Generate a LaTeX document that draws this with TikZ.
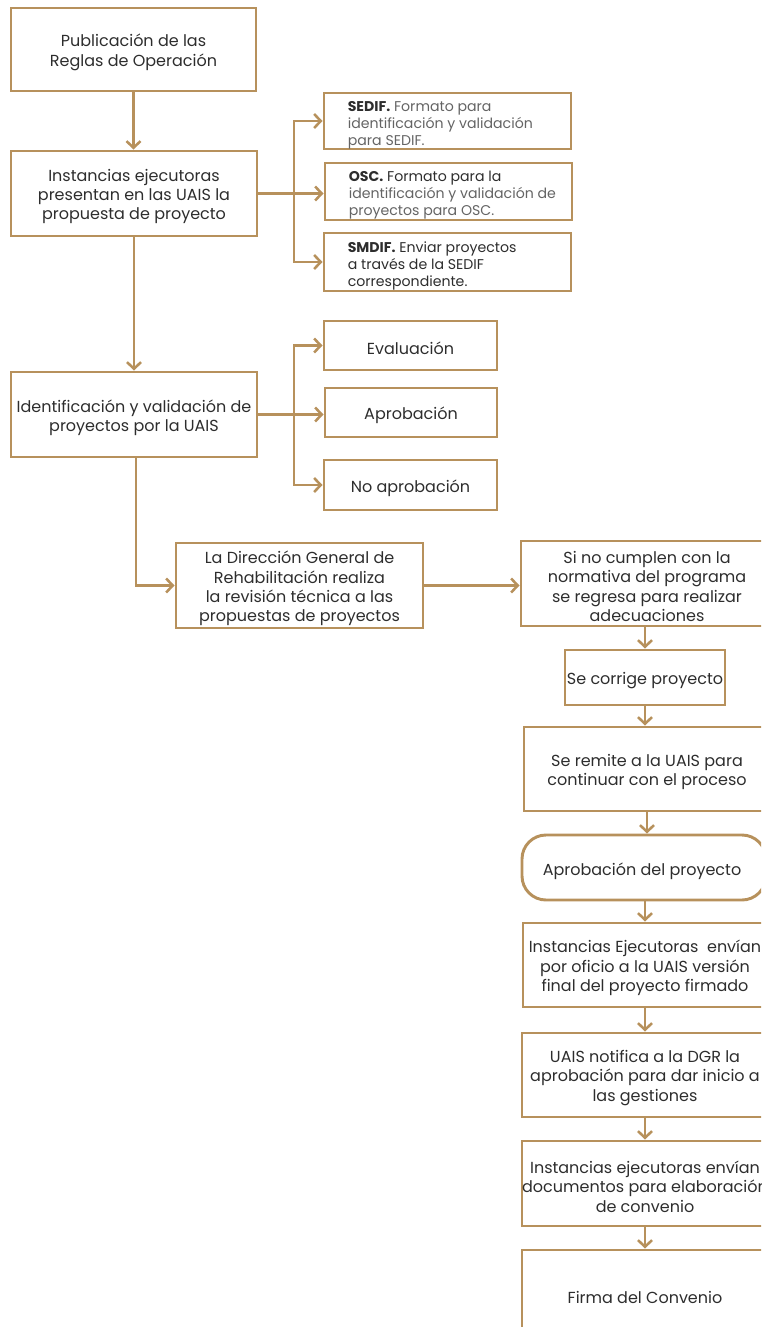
\documentclass[tikz,border=0pt]{standalone}
\usepackage{fontspec}
\setmainfont{Poppins}
\usetikzlibrary{arrows.meta}
\definecolor{gold}{RGB}{183,145,92}
\definecolor{txt}{RGB}{45,45,45}
\definecolor{txtl}{RGB}{100,100,100}
\begin{document}
\begin{tikzpicture}[x=0.75pt,y=-0.75pt,
  bx/.style 2 args={draw=gold,line width=2.2pt,inner sep=0pt,minimum width=#1*0.75pt,minimum height=#2*0.75pt},
  tx/.style={align=center,text=txt,inner sep=0pt,yshift=-2.25pt,font=\fontsize{12}{14.6}\selectfont},
  stx/.style={align=left,text=txt,inner sep=0pt,anchor=west,font=\fontsize{10.6}{12.8}\selectfont},
  conn/.style={draw=gold,line width=1.9pt,-{Straight Barb[length=5pt,width=10.5pt]}}]
\useasboundingbox (0,0) rectangle (761,1327);
\clip (0,0) rectangle (761,1327);

% left column
\node[bx={245}{83}] (b1) at (133.5,49.5) {};
\node[tx] (t1) at (b1) {Publicación de las\\Reglas de Operación};
\node[bx={246}{85}] (b2) at (134,193.5) {};
\node[tx] (t2) at (b2) {Instancias ejecutoras\\presentan en las UAIS la\\propuesta de proyecto};
\node[bx={246}{85}] (b3) at (134,414.5) {};
\node[tx] (t3) at (b3) {Identificación y validación de\\proyectos por la UAIS};

% first branch boxes
\node[bx={247}{56}] (sedif) at (447.5,121) {};
\node[stx] (sedift) at ([xshift=18.75pt,yshift=-3pt]sedif.west) {\textbf{SEDIF.} \textcolor{txtl}{Formato para}\\\textcolor{txtl}{identificación y validación}\\\textcolor{txtl}{para SEDIF.}};
\node[bx={247}{57}] (osc) at (448.5,191.5) {};
\node[stx] (osct) at ([xshift=18.75pt,yshift=-3pt]osc.west) {\textbf{OSC.} Formato para la\\\textcolor{txtl}{identificación y validación de}\\\textcolor{txtl}{proyectos para OSC.}};
\node[bx={247}{58}] (smdif) at (447.5,262) {};
\node[stx] (smdift) at ([xshift=18.75pt,yshift=-3pt]smdif.west) {\textbf{SMDIF.} Enviar proyectos\\a través de la SEDIF\\correspondiente.};

% second branch boxes
\node[bx={173}{49}] (ev) at (410.5,345.5) {};
\node[tx] (evt) at (ev) {Evaluación};
\node[bx={172}{49}] (ap) at (411,412.5) {};
\node[tx] (apt) at (ap) {Aprobación};
\node[bx={173}{50}] (na) at (410.5,485) {};
\node[tx] (nat) at (na) {No aprobación};

% middle
\node[bx={247}{85}] (b4) at (299.5,585.5) {};
\node[tx] (t4) at (b4) {La Dirección General de\\Rehabilitación realiza\\la revisión técnica a las\\propuestas de proyectos};

% right column
\node[bx={252}{85}] (b5) at (647,583.5) {};
\node[tx] (t5) at (b5) {Si no cumplen con la\\normativa del programa\\se regresa para realizar\\adecuaciones};
\node[bx={160}{55}] (b6) at (645,677.5) {};
\node[tx] (t6) at (b6) {Se corrige proyecto};
\node[bx={246}{84}] (b7) at (647,769) {};
\node[tx] (t7) at (b7) {Se remite a la UAIS para\\continuar con el proceso};
\node[bx={244}{65},rounded corners=18pt] (b8) at (644,867.5) {};
\node[tx] (t8) at (642,868) {Aprobación del proyecto};
\node[bx={244}{84}] (b9) at (645,965) {};
\node[tx] (t9) at (b9) {Instancias Ejecutoras\ \ envían\\por oficio a la UAIS versión\\final del proyecto firmado};
\node[bx={246}{84}] (b10) at (645,1075) {};
\node[tx] (t10) at (b10) {UAIS notifica a la DGR la\\aprobación para dar inicio a\\las gestiones};
\node[bx={246}{85}] (b11) at (645,1183.5) {};
\node[tx] (t11) at (b11) {Instancias ejecutoras envían\\documentos para elaboración\\de convenio};
\node[bx={246}{88}] (b12) at (645,1294) {};
\node[tx] (t12) at (b12) {Firma del Convenio};

% connectors
\draw[conn] (b1.south) -- (b1.south |- b2.north);
\draw[conn] (b2.south) -- (b2.south |- b3.north);
\coordinate (j1) at (294,193.5);
\draw[conn] (b2.east) -- (b2.east -| osc.west);
\draw[conn] (j1) |- (sedif.west);
\draw[conn] (j1) |- (smdif.west);
\coordinate (j2) at (294,414.5);
\draw[conn] (b3.east) -- (b3.east -| ap.west);
\draw[conn] (j2) |- (ev.west);
\draw[conn] (j2) |- (na.west);
\coordinate (d3) at ([xshift=1.5pt]b3.south);
\draw[conn] (d3) |- (b4.west);
\draw[conn] (b4.east) -- (b4.east -| b5.west);
\draw[conn] (b6.north |- b5.south) -- (b6.north);
\draw[conn] (b6.south) -- (b6.south |- b7.north);
\draw[conn] (b7.south) -- (b7.south |- b8.north);
\draw[conn] (b9.north |- b8.south) -- (b9.north);
\draw[conn] (b9.south) -- (b9.south |- b10.north);
\draw[conn] (b10.south) -- (b10.south |- b11.north);
\draw[conn] (b11.south) -- (b11.south |- b12.north);
\end{tikzpicture}
\end{document}
